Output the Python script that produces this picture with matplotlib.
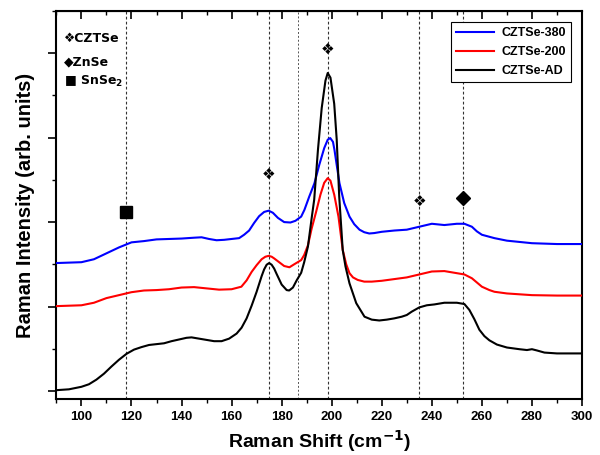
import numpy as np
import matplotlib
matplotlib.use("Agg")
import matplotlib.pyplot as plt
from matplotlib.ticker import MultipleLocator

plt.rcParams['font.family'] = ['Liberation Sans', 'DejaVu Sans']

# CZTSe-AD (black)
x_ad = [90, 95, 100, 103, 106, 109, 112, 115, 118, 121, 124, 127, 130, 133, 136, 139, 142, 144,
        147, 150, 153, 156, 159, 162, 164, 166, 168, 170, 172, 173, 174, 175, 176, 177, 178, 180,
        182, 183, 184.5, 186, 187.8, 189, 190.5, 192, 193, 194.5, 196, 197.5, 198.4, 199.5, 201,
        202, 203, 204.4, 205.5, 207.1, 209.8, 213.1, 216, 219, 222, 225, 228, 230, 232, 235, 238,
        241, 245, 250, 253, 255, 257, 259, 261, 263, 266, 270, 275, 278, 280, 282, 285, 290, 300]
y_ad = [0.02, 0.04, 0.10, 0.16, 0.27, 0.41, 0.58, 0.74, 0.88, 0.98, 1.04, 1.09, 1.11, 1.13, 1.18,
        1.22, 1.26, 1.27, 1.24, 1.21, 1.18, 1.18, 1.24, 1.36, 1.50, 1.72, 2.02, 2.35, 2.72, 2.88,
        2.99, 3.03, 2.99, 2.90, 2.77, 2.52, 2.39, 2.38, 2.45, 2.62, 2.80, 3.05, 3.42, 4.10, 4.53,
        5.71, 6.70, 7.35, 7.53, 7.42, 6.80, 5.95, 4.60, 3.34, 2.95, 2.55, 2.08, 1.76, 1.69, 1.67,
        1.69, 1.72, 1.76, 1.80, 1.88, 1.98, 2.03, 2.05, 2.09, 2.09, 2.06, 1.92, 1.70, 1.45, 1.30,
        1.20, 1.10, 1.03, 0.99, 0.97, 0.99, 0.96, 0.91, 0.89, 0.89]

# CZTSe-200 (red)
x_200 = [90, 95, 100, 105, 110, 115, 120, 125, 130, 135, 140, 145, 150, 155, 160, 163.9, 166, 168,
         170, 172, 173.5, 174.8, 176, 177, 179, 181, 183.1, 185, 187.8, 189, 190.5, 192, 193.8,
         195.5, 197, 198.4, 199.5, 201, 202.7, 204.4, 205.8, 207.1, 208.5, 210.4, 213, 216, 220,
         225, 230, 235, 240, 245, 250, 253, 256, 258, 260, 263, 265, 270, 275, 280, 290, 300]
y_200 = [2.01, 2.02, 2.03, 2.09, 2.20, 2.27, 2.34, 2.38, 2.39, 2.41, 2.45, 2.46, 2.43, 2.40, 2.41,
         2.47, 2.62, 2.82, 2.98, 3.12, 3.18, 3.20, 3.18, 3.14, 3.05, 2.96, 2.93, 3.00, 3.10, 3.22,
         3.45, 3.85, 4.25, 4.65, 4.93, 5.04, 4.98, 4.65, 4.13, 3.34, 3.00, 2.79, 2.69, 2.63, 2.59,
         2.59, 2.61, 2.65, 2.69, 2.76, 2.83, 2.84, 2.79, 2.76, 2.67, 2.57, 2.47, 2.39, 2.35, 2.31,
         2.29, 2.27, 2.26, 2.26]

# CZTSe-380 (blue)
x_380 = [90, 95, 100, 105, 110, 115, 120, 125, 130, 135, 140, 145, 148, 151, 154, 157, 160, 163,
         165, 167, 169, 171, 173, 174.8, 176.5, 178.5, 181, 183.5, 185.5, 187.8, 189.1, 191, 193.1,
         195, 197, 198.4, 199.4, 200.5, 201.1, 202, 203.1, 205, 207.1, 209, 211.1, 213, 215, 217,
         220, 225, 230, 235, 240, 245, 250, 253, 256, 258, 260, 265, 270, 275, 280, 290, 300]
y_380 = [3.03, 3.04, 3.05, 3.12, 3.26, 3.40, 3.52, 3.55, 3.59, 3.60, 3.61, 3.63, 3.64, 3.60, 3.57,
         3.58, 3.60, 3.62, 3.70, 3.80, 3.98, 4.14, 4.24, 4.27, 4.22, 4.10, 4.00, 3.99, 4.03, 4.13,
         4.29, 4.60, 4.92, 5.35, 5.75, 5.95, 5.99, 5.90, 5.71, 5.35, 4.92, 4.45, 4.13, 3.95, 3.82,
         3.76, 3.73, 3.74, 3.77, 3.80, 3.82, 3.89, 3.96, 3.93, 3.96, 3.96, 3.89, 3.78, 3.70, 3.62,
         3.56, 3.53, 3.50, 3.48, 3.48]

peak_lines = [118, 174.8, 198.4, 235, 252.5]
faint_line = 186.5

# phase markers (x, y)
czt_marks = [(174.8, 5.12), (198.4, 8.08), (235, 4.48)]
znse_mark = (252.5, 4.57)
snse_mark = (118, 4.24)

fig = plt.figure(figsize=(6, 4.55), dpi=100)
ax = fig.add_axes([0.094, 0.123, 0.876, 0.853])

for xv in peak_lines:
    ax.axvline(xv, color='#333333', lw=0.8, ls=(0, (2.5, 2)), zorder=1)
ax.axvline(faint_line, color='#555555', lw=0.7, ls=(0, (2, 2)), zorder=1)

ax.plot(x_380, y_380, color='#0000ff', lw=1.5, label='CZTSe-380', zorder=3)
ax.plot(x_200, y_200, color='#ff0000', lw=1.5, label='CZTSe-200', zorder=3)
ax.plot(x_ad, y_ad, color='black', lw=1.5, label='CZTSe-AD', zorder=3)

for xm, ym in czt_marks:
    ax.text(xm, ym, '\u2756', fontsize=11, ha='center', va='center', family=['DejaVu Sans'])
ax.plot(*znse_mark, marker='D', ms=7, color='black', ls='none')
ax.plot(*snse_mark, marker='s', ms=8, color='black', ls='none')

# legend of phases at upper left
ax.text(93, 8.35, '\u2756CZTSe', fontsize=9, fontweight='bold', va='center',
        family=['DejaVu Sans'])
ax.text(93, 7.8, '\u25c6ZnSe', fontsize=9, fontweight='bold', va='center',
        family=['DejaVu Sans'])
ax.text(93, 7.32, '\u25a0 SnSe$_\\mathbf{2}$', fontsize=9, fontweight='bold', va='center',
        family=['DejaVu Sans'])

ax.set_xlim(90, 300)
ax.set_ylim(-0.19, 9)
ax.xaxis.set_major_locator(MultipleLocator(20))
ax.xaxis.set_minor_locator(MultipleLocator(10))
ax.yaxis.set_major_locator(MultipleLocator(2))
ax.yaxis.set_minor_locator(MultipleLocator(1))
ax.set_yticklabels([])
ax.tick_params(axis='x', which='both', direction='out', top=False)
ax.tick_params(axis='x', which='major', length=5, width=1.2, labelsize=9.5)
ax.tick_params(axis='x', which='minor', length=3, width=1.0)
ax.tick_params(axis='y', which='major', length=6, width=1.2)
ax.tick_params(axis='y', which='minor', length=3, width=1.0)
for lab in ax.get_xticklabels():
    lab.set_fontweight('bold')

# inward ticks on top
top = ax.secondary_xaxis('top')
top.xaxis.set_major_locator(MultipleLocator(20))
top.xaxis.set_minor_locator(MultipleLocator(10))
top.tick_params(axis='x', which='both', direction='in', labeltop=False)
top.tick_params(axis='x', which='major', length=6, width=1.2)
top.tick_params(axis='x', which='minor', length=3, width=1.0)

for sp in ax.spines.values():
    sp.set_linewidth(1.5)

ax.set_xlabel('Raman Shift (cm$^{\\mathbf{-1}}$)', fontsize=14, fontweight='bold', labelpad=4)
ax.set_ylabel('Raman Intensity (arb. units)', fontsize=14.5, fontweight='bold', labelpad=6)

leg = ax.legend(loc='upper right', prop={'weight': 'bold', 'size': 9},
                fancybox=False, edgecolor='black', framealpha=1, handlelength=3.0,
                handletextpad=0.6, borderaxespad=0.9, labelspacing=0.55)
leg.get_frame().set_linewidth(0.8)

fig.savefig('out.png', dpi=100)
